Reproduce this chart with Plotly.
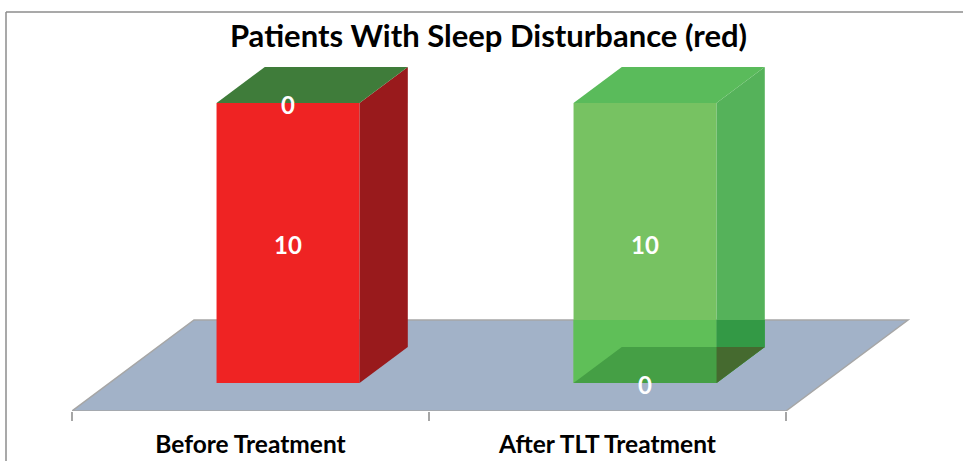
import plotly.graph_objects as go

# Values
categories = ["Before Treatment", "After TLT Treatment"]
sleep_disturbance = [10, 0]
no_disturbance = [0, 10]
minor_tick_vals = [-0.5, 0.5, 1.5]

TITLE = "Patients With Sleep Disturbance (red)"
FONT = "Lato, Carlito, Calibri, sans-serif"

# oblique projection: one unit of depth moves this far on the two axes
DEPTH_X = 122 / 357
DEPTH_Y = 91 / 28
BAR_WIDTH = 143 / 357
BAR_Z0 = 28 / 91
BAR_Z1 = 64 / 91
LABEL_DROP = 5 / 28  # plotly centres the text a bit high


def project(x, v, z):
    return x + z * DEPTH_X, v + z * DEPTH_Y


def polygon(points, color):
    xs, ys = zip(*[project(*p) for p in points])
    return go.Scatter(
        x=list(xs) + [xs[0]], y=list(ys) + [ys[0]],
        mode="lines", fill="toself", fillcolor=color,
        line=dict(width=0), hoverinfo="skip", showlegend=False,
    )


fig = go.Figure()

# value of the back floor edge and the bar's rear foot, seen on the front face
floor_back_on_front = (1 - BAR_Z0) * DEPTH_Y
rear_foot_on_front = (BAR_Z1 - BAR_Z0) * DEPTH_Y

front_x = [i + project(0, 0, BAR_Z0)[0] for i in range(len(categories))]
base_v = project(0, 0, BAR_Z0)[1]

fig.add_trace(go.Bar(
    x=front_x, y=sleep_disturbance, base=[base_v] * 2, width=BAR_WIDTH,
    marker=dict(color="#EF2323", line=dict(width=0)), name="Sleep disturbance",
    showlegend=False,
))
fig.add_trace(go.Bar(
    x=front_x, y=no_disturbance,
    base=[base_v + v for v in sleep_disturbance], width=BAR_WIDTH,
    marker=dict(color="#77C262", line=dict(width=0)), name="No disturbance",
    showlegend=False,
))

for i, (red, green) in enumerate(zip(sleep_disturbance, no_disturbance)):
    left = i - BAR_WIDTH / 2
    right = i + BAR_WIDTH / 2
    top = red + green

    if red:
        # solid red box with the empty green segment as a dark lid
        fig.add_trace(polygon([(right, 0, BAR_Z0), (right, 0, BAR_Z1), (right, top, BAR_Z1), (right, top, BAR_Z0)], "#991A1C"))
        fig.add_trace(polygon([(left, top, BAR_Z0), (right, top, BAR_Z0), (right, top, BAR_Z1), (left, top, BAR_Z1)], "#3F7C3A"))
    else:
        # see-through green box: faces change colour where they cross the floor
        fig.add_trace(polygon([(right, 0, BAR_Z0), (right, 0, BAR_Z1), (right, top, BAR_Z1), (right, top, BAR_Z0)], "#55B25A"))
        fig.add_trace(polygon([(left, top, BAR_Z0), (right, top, BAR_Z0), (right, top, BAR_Z1), (left, top, BAR_Z1)], "#5ABB5B"))
        fig.add_trace(polygon([(left, 0, BAR_Z0), (right, 0, BAR_Z0), (right, floor_back_on_front, BAR_Z0), (left, floor_back_on_front, BAR_Z0)], "#5FBF58"))
        # side face over the floor, clipped at the back floor edge
        fig.add_trace(polygon([
            (right, 0, BAR_Z0),
            (right, 0, BAR_Z1),
            (right, floor_back_on_front - rear_foot_on_front, BAR_Z1),
            (right, floor_back_on_front, BAR_Z0),
        ], "#339945"))
        fig.add_trace(polygon([(left, 0, BAR_Z0), (right, 0, BAR_Z0), (right, 0, BAR_Z1), (left, 0, BAR_Z1)], "#459F45"))
        fig.add_trace(polygon([(right, 0, BAR_Z0), (right, 0, BAR_Z1), (right, rear_foot_on_front, BAR_Z0)], "#456A2F"))

    # segment labels sit on the front face
    fig.add_trace(go.Scatter(
        x=[front_x[i]] * 2,
        y=[base_v + red / 2 - LABEL_DROP, base_v + red + green / 2 - LABEL_DROP],
        mode="text", text=[f"<b>{red}</b>", f"<b>{green}</b>"],
        textfont=dict(family=FONT, size=24, color="white"),
        textposition="middle center", hoverinfo="skip", showlegend=False,
    ))

# floor sits behind everything, so it goes in as a below-layer path
corners = [project(-0.5, 0, 0), project(1.5, 0, 0), project(1.5, 0, 1), project(-0.5, 0, 1)]
fig.add_shape(
    type="path", layer="below",
    path="M " + " L ".join(f"{x},{y}" for x, y in corners) + " Z",
    fillcolor="#A2B2C8", line=dict(color="#A6A6A6", width=1.5),
)

fig.update_layout(
    width=963, height=461,
    margin=dict(l=72, r=52, t=0, b=50),
    barmode="overlay",
    plot_bgcolor="white", paper_bgcolor="white",
    font=dict(family=FONT),
    title=dict(
        text=f"<b>{TITLE}</b>", font=dict(family=FONT, size=31, color="black"),
        x=488.5 / 963, xanchor="center", y=1 - 36 / 461, yanchor="middle",
    ),
    xaxis=dict(
        range=[-0.5, -0.5 + 839 / 357], showgrid=False, zeroline=False, showline=False,
        tickmode="array", tickvals=[0, 1],
        ticktext=[f"<b>{c}</b>" for c in categories],
        tickfont=dict(family=FONT, size=24.5, color="black"), ticks="", ticklen=0,
        ticklabelstandoff=16,
        minor=dict(tickmode="array", tickvals=minor_tick_vals, ticks="outside", ticklen=9, tickcolor="#A6A6A6", tickwidth=1.5),
    ),
    yaxis=dict(range=[0, 411 / 28], visible=False),
    shapes=list(fig.layout.shapes) + [
        # chart frame, top and left only are in view
        dict(type="line", xref="paper", yref="paper", x0=(6 - 72) / 839, x1=1 + 52 / 839, y0=1 - 12 / 411, y1=1 - 12 / 411, line=dict(color="#8C8C8C", width=1.5)),
        dict(type="line", xref="paper", yref="paper", x0=(6 - 72) / 839, x1=(6 - 72) / 839, y0=1 - 12 / 411, y1=-50 / 411, line=dict(color="#8C8C8C", width=1.5)),
    ],
)

# the page's default body margin would push the figure 8px off the window corner
fig.write_html("out.html", config=dict(displayModeBar=False), post_script="document.body.style.margin='0';")
